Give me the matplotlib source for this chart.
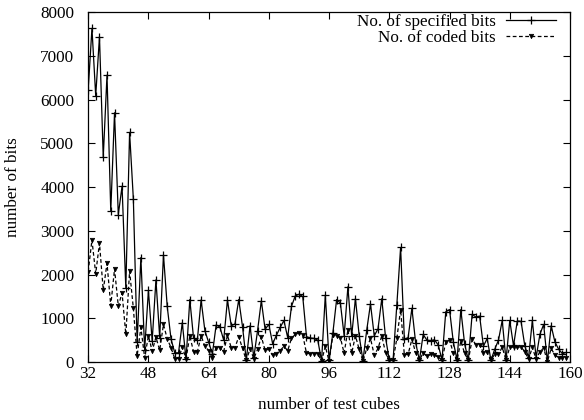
import matplotlib
matplotlib.use("Agg")
import matplotlib.pyplot as plt
import numpy as np

x_start = 32
specified_bits = [
    6220, 7630, 6090, 7440, 4680, 6560, 3450, 5700, 3370, 4020,  # 32-41
    1690, 5250, 3730, 450, 2390, 280, 1640, 480, 1880, 560,      # 42-51
    2450, 1270, 530, 210, 210, 900, 60, 1430, 540, 500,          # 52-61
    1420, 720, 450, 190, 850, 800, 500, 1420, 830, 870,          # 62-71
    1430, 810, 40, 830, 100, 720, 1400, 750, 860, 420,           # 72-81
    610, 790, 950, 560, 1270, 1510, 1550, 1500, 580, 550,        # 82-91
    540, 500, 20, 1530, 40, 660, 1430, 1350, 600, 1720,          # 92-101
    600, 1450, 600, 30, 730, 1330, 600, 760, 1450, 560,          # 102-111
    40, 40, 1310, 2620, 520, 560, 1230, 440, 40, 630,            # 112-121
    500, 490, 510, 390, 50, 1150, 1200, 460, 50, 1200,           # 122-131
    420, 40, 1090, 1030, 1050, 360, 540, 40, 290, 500,           # 132-141
    950, 40, 950, 370, 940, 930, 370, 100, 950, 100,             # 142-151
    630, 860, 10, 830, 460, 290, 190, 220,                       # 152-159
]
coded_bits = [
    2070, 2790, 2020, 2720, 1640, 2260, 1290, 2130, 1280, 1580,  # 32-41
    630, 2080, 1230, 140, 790, 100, 600, 250, 570, 270,          # 42-51
    860, 530, 330, 80, 80, 340, 80, 600, 230, 230,               # 52-61
    600, 360, 260, 90, 330, 330, 240, 610, 330, 330,             # 62-71
    580, 310, 40, 300, 80, 290, 580, 270, 290, 150,              # 72-81
    190, 260, 360, 260, 540, 630, 660, 620, 200, 190,            # 82-91
    190, 190, 20, 360, 20, 610, 600, 560, 200, 740,              # 92-101
    200, 600, 290, 20, 310, 540, 160, 310, 600, 210,             # 102-111
    40, 40, 540, 1200, 160, 180, 520, 210, 40, 210,              # 112-121
    130, 180, 160, 110, 40, 460, 500, 210, 40, 480,              # 122-131
    200, 40, 520, 400, 400, 210, 220, 40, 180, 180,              # 132-141
    340, 40, 340, 340, 340, 340, 240, 60, 340, 60,               # 142-151
    240, 320, 10, 310, 160, 100, 90, 90,                         # 152-159
]
test_cubes = np.arange(x_start, x_start + len(specified_bits))

xticks = [32, 48, 64, 80, 96, 112, 128, 144, 160]
yticks = [0, 1000, 2000, 3000, 4000, 5000, 6000, 7000, 8000]

plt.rcParams['font.family'] = ['Liberation Serif', 'DejaVu Serif']
fs = 12.3

fig = plt.figure(figsize=(5.84, 4.20), dpi=100)
ax = fig.add_axes([0.151, 0.138, 0.825, 0.833])

ax.plot(test_cubes, specified_bits, color='black', lw=0.9, marker='+',
        markersize=5.5, markeredgewidth=0.9, label='No. of specified bits')
ax.plot(test_cubes, coded_bits, color='black', lw=0.9, linestyle=(0, (3, 2)),
        marker='v', markersize=3.2, markeredgewidth=0.5,
        label='No. of coded bits')

ax.set_xlim(32, 160)
ax.set_ylim(0, 8000)
ax.set_xticks(xticks)
ax.set_yticks(yticks)
ax.tick_params(direction='in', top=True, right=True, length=5, width=0.8,
               labelsize=fs)
ax.tick_params(axis='y', pad=10)
ax.tick_params(axis='x', pad=3)
for s in ax.spines.values():
    s.set_linewidth(0.9)

ax.set_xlabel('number of test cubes', fontsize=fs, labelpad=11)
ax.set_ylabel('number of bits', fontsize=fs, labelpad=14)

leg = ax.legend(loc='upper right', frameon=False, markerfirst=False,
                handlelength=2.9, handletextpad=0.6, labelspacing=0.0,
                borderaxespad=0.0, borderpad=0.0, fontsize=fs,
                bbox_to_anchor=(0.97, 0.995))
for t in leg.get_texts():
    t.set_ha('right')

fig.savefig('out.png', dpi=100)
